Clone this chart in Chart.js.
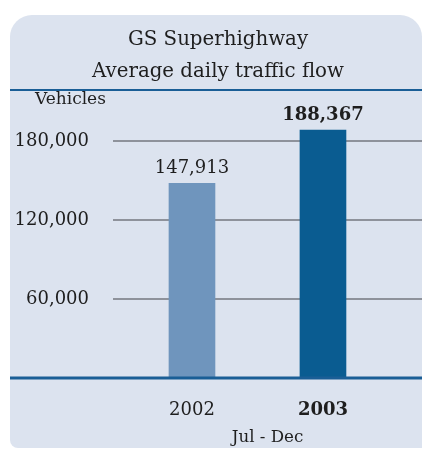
<!DOCTYPE html>
<html>
<head>
<meta charset="utf-8">
<script src="https://cdn.jsdelivr.net/npm/chart.js@4/dist/chart.umd.min.js"></script>
<style>
  html, body { margin: 0; padding: 0; background: #fff; }
  #wrap { position: relative; width: 422px; height: 450px; }
  #panel {
    position: absolute; left: 10px; top: 15px; width: 412px; height: 433px;
    background: #dce3ef; border-radius: 22px 22px 0 8px;
  }
  canvas { position: absolute; left: 0; top: 0; }
</style>
</head>
<body>
<div id="wrap">
  <div id="panel"></div>
  <canvas id="traffic-chart" width="422" height="450"></canvas>
</div>
<script>
// data
const years = ['2002', '2003'];
const vehicles = [147913, 188367];
const yTicks = [60000, 120000, 180000];
const barColors = ['#6f95bd', '#0a5c91'];
const boldYear = [false, true];

const serif = "'DejaVu Serif', serif";
const ink = '#1e1e1e';
const lineBlue = '#1a5e96';

// 막대 위 값, 제목 아래 선, 축 선, Vehicles 글자
const extras = {
  id: 'extras',
  afterDatasetsDraw(chart) {
    const ctx = chart.ctx;
    const area = chart.chartArea;
    ctx.save();

    ctx.strokeStyle = lineBlue;
    ctx.lineWidth = 2;
    ctx.beginPath();
    ctx.moveTo(10, area.top - 5);
    ctx.lineTo(area.right, area.top - 5);
    ctx.stroke();

    ctx.lineWidth = 3;
    ctx.beginPath();
    ctx.moveTo(10, area.bottom);
    ctx.lineTo(area.right, area.bottom);
    ctx.stroke();

    ctx.fillStyle = ink;
    ctx.textBaseline = 'middle';
    ctx.textAlign = 'left';
    ctx.font = '17px ' + serif;
    ctx.fillText('Vehicles', 35, area.top + 5);

    ctx.textAlign = 'center';
    chart.getDatasetMeta(0).data.forEach((bar, i) => {
      ctx.font = (boldYear[i] ? 'bold ' : '') + '18px ' + serif;
      ctx.fillText(vehicles[i].toLocaleString('en-US'), bar.x, bar.y - 15);
    });
    ctx.restore();
  },
};

const chart = new Chart(document.getElementById('traffic-chart'), {
  type: 'bar',
  data: {
    datasets: [
      {
        data: vehicles.map((v, i) => ({ x: i, y: v })),
        backgroundColor: barColors,
        borderWidth: 0,
        barThickness: 46,
      },
    ],
  },
  options: {
    responsive: false,
    animation: false,
    layout: { padding: { left: 14, right: 0, top: 0, bottom: 2.4 } },
    plugins: {
      legend: { display: false },
      tooltip: { enabled: false },
      title: {
        display: true,
        text: ['GS Superhighway', 'Average daily traffic flow'],
        color: ink,
        font: { family: serif, size: 19.8, weight: 'normal', lineHeight: 32 / 19.8 },
        padding: { top: 24, bottom: 7 },
      },
    },
    scales: {
      x: {
        type: 'linear',
        offset: false,
        min: -0.603,
        max: 1.756,
        afterBuildTicks: (scale) => {
          scale.ticks = years.map((y, i) => ({ value: i }));
        },
        afterFit: (scale) => {
          scale.height = 69.6;
        },
        grid: { display: false, drawTicks: false },
        border: { display: false },
        ticks: {
          padding: 22,
          maxRotation: 0,
          autoSkip: false,
          color: ink,
          callback: (v) => years[v],
          font: (c) => ({
            family: serif,
            size: 18,
            weight: c.index === 1 ? 'bold' : 'normal',
          }),
        },
        title: {
          display: true,
          text: 'Jul - Dec',
          color: ink,
          font: { family: serif, size: 16.7 },
          padding: { top: 8, bottom: 0 },
        },
      },
      y: {
        min: 0,
        max: 215000,
        afterFit: (scale) => {
          scale.width = 99;
        },
        afterBuildTicks: (scale) => {
          scale.ticks = yTicks.map((v) => ({ value: v }));
        },
        grid: { color: '#8e929b', lineWidth: 2, drawTicks: false },
        border: { display: false },
        ticks: {
          padding: 24,
          color: ink,
          font: { family: serif, size: 18 },
          callback: (v) => v.toLocaleString('en-US'),
        },
      },
    },
  },
  plugins: [extras],
});
</script>
</body>
</html>
